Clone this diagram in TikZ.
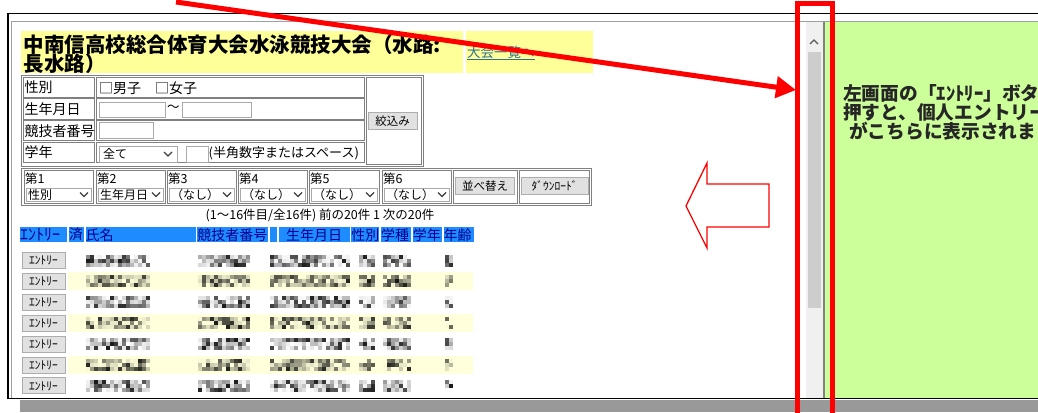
\documentclass[tikz,border=0pt]{standalone}
\usepackage{fontspec}
\setmainfont{Noto Sans CJK JP}
\usepackage{tikz}
\usetikzlibrary{calc}
\usetikzlibrary{matrix,positioning,arrows.meta}

\definecolor{titleyellow}{HTML}{FFFF99}
\definecolor{rowyellow}{HTML}{FFFFDC}
\definecolor{headblue}{HTML}{1E8CFF}
\definecolor{headtext}{HTML}{000090}
\definecolor{panelgreen}{HTML}{CCFF99}
\definecolor{btngray}{HTML}{E1E1E1}
\definecolor{btnborder}{HTML}{ADADAD}
\definecolor{framegray}{HTML}{808080}
\definecolor{fieldgray}{HTML}{A9A9A9}
\definecolor{innergray}{HTML}{A0A0A0}
\definecolor{bargray}{HTML}{999999}
\definecolor{linkteal}{HTML}{2F6F8F}
\definecolor{tracklight}{HTML}{F0F0F0}
\definecolor{thumbgray}{HTML}{CDCDCD}

\begin{document}
\begin{tikzpicture}[
    x=1pt, y=-1pt,
    every node/.style={inner sep=0pt},
    cell/.style={draw=framegray, line width=1pt},
    field/.style={draw=fieldgray, fill=white, line width=1pt},
    button/.style={draw=btnborder, fill=btngray, line width=1pt,
        minimum height=17pt, font=\fontsize{11.5}{12}\selectfont},
    title/.style={anchor=west, font=\fontsize{20.5}{21}\selectfont\bfseries},
    label/.style={anchor=west, font=\fontsize{14}{14}\selectfont},
    small/.style={anchor=west, font=\fontsize{12.5}{13}\selectfont},
    note/.style={anchor=west, text=black!85, font=\fontsize{18.7}{19}\selectfont\bfseries},
    chevron/.style={draw=black!75, line width=1.1pt},
    headrow/.style={
        matrix of nodes,
        nodes in empty cells,
        nodes={
            fill=headblue,
            text=headtext,
            minimum height=15pt,
            anchor=center,
            align=left,
            font=\fontsize{14}{14}\selectfont
        },
        column sep=1.7pt,
    },
    marker/.style={red, line width=5pt},
    hollow/.style={draw=red, fill=white, line width=1.3pt, line join=miter}
]

\useasboundingbox (0,0) rectangle (1038,412);
\fill[white] (0,0) rectangle (1038,412);

% Window frame and bottom bar
\fill[bargray] (20,399.5) rectangle (1038,412);
\draw[black, line width=1.5pt] (1038,13.5) -- (8,13.5) -- (8,398.5) -- (1038,398.5);
\draw[innergray, line width=1pt] (1038,21.5) -- (11,21.5) -- (11,397.5);

% Right panel (green) with scrollbar
\fill[panelgreen] (825,22) rectangle (1038,398);
\fill[tracklight] (806,22) rectangle (822.5,398);
\fill[thumbgray] (807.5,52) rectangle (821,308);
\fill[framegray] (822.5,22) rectangle (825,398);
\draw[chevron, black!65] (810,44) -- (814,40) -- (818,44);
\begin{scope}
    \clip (825,22) rectangle (1038,398);
    \node[note] (note1) at (843,93) {左画面の「ｴﾝﾄﾘｰ」ボタ};
    \node[note] (note2) at (843,112) {押すと、個人エントリー};
    \node[note] (note3) at (849,131) {がこちらに表示されま};
\end{scope}

% Title bar (top left)
\fill[titleyellow] (20.5,31) rectangle (463,73);
\fill[titleyellow] (466,31) rectangle (593,73);
\node[title] (title) at (23.5,45) {中南信高校総合体育大会水泳競技大会（水路:};
\node[title] (title2) at (23.5,64) {長水路）};
\node[anchor=west, text=linkteal, font=\fontsize{13.5}{14}\selectfont] (eventlist) at (467,52) {大会一覧へ};
\draw[linkteal, line width=0.8pt] ($(eventlist.south west)+(0,1)$) -- ($(eventlist.south east)+(0,1)$);

% Filter table
\draw[cell] (21,75.5) rectangle (423.5,166);
\foreach \lab [count=\i] in {性別, 生年月日, 競技者番号, 学年}{
    \pgfmathsetmacro\top{77+21.7*(\i-1)}
    \draw[cell] (23,\top) rectangle (94,\top+20.5);
    \draw[cell] (96,\top) rectangle (364,\top+20.5);
    \node[label] (lab\i) at (24.5,\top+10.5) {\lab};
}
\draw[cell] (366,77) rectangle (421.5,164);
\node[button, minimum width=49pt] (narrow) at (392.5,121) {絞込み};
\node[label] (sexbox) at (99,88) {□男子　□女子};
\draw[field] (99,102) rectangle (165,117);
\node[small] (tilde) at (167,108) {〜};
\draw[field] (182,102) rectangle (251,117);
\draw[field] (99,122) rectangle (153,138);
\draw[field] (99,146) rectangle (177,162);
\node[small, font=\fontsize{12}{12}\selectfont] (allgrades) at (103,154) {全て};
\draw[chevron] (164,152) -- (168,156) -- (172,152);
\draw[field] (186,146) rectangle (208,162);
\node[small, font=\fontsize{13}{13}\selectfont] (hint) at (208.5,153.5) {(半角数字またはスペース)};

% Sort table
\draw[cell] (21,168) rectangle (591.5,205);
\foreach \xa/\xb/\opt [count=\i] in {24/93/性別, 96/165/生年月日, 167/236/（なし）,
        238/307/（なし）, 309/379/（なし）, 382/451/（なし）}{
    \draw[cell] (\xa,170) rectangle (\xb,203);
    \node[small] (sortlab\i) at (\xa+1,179) {第\i};
    \draw[field] (\xa+2,188) rectangle (\xb-1.5,201);
    \node[small, font=\fontsize{12}{12}\selectfont] (sortopt\i) at (\xa+4,194.5) {\opt};
    \draw[chevron] (\xb-13,192.5) -- (\xb-9,196.5) -- (\xb-5,192.5);
}
\draw[cell] (453,170) rectangle (517,203);
\draw[cell] (519,170) rectangle (589.5,203);
\node[button, minimum width=59pt] (sortbtn) at (485,186) {並べ替え};
\node[button, minimum width=67pt] (download) at (554.5,186) {ﾀﾞｳﾝﾛｰﾄﾞ};

% Result list
\node[font=\fontsize{12.5}{13}\selectfont] (count) at (320,215) {(1〜16件目/全16件) 前の20件 1 次の20件};
\matrix[headrow, anchor=north west,
    column 1/.style={nodes={text width=47pt}},
    column 2/.style={nodes={text width=15pt}},
    column 3/.style={nodes={text width=110pt}},
    column 4/.style={nodes={text width=71pt}},
    column 5/.style={nodes={text width=7pt}},
    column 6/.style={nodes={text width=71pt}},
    column 7/.style={nodes={text width=28pt}},
    column 8/.style={nodes={text width=30pt}},
    column 9/.style={nodes={text width=29pt}},
    column 10/.style={nodes={text width=30pt}}] (heads) at (20,227) {
    |[font=\fontsize{16}{16}\selectfont]| ｴﾝﾄﾘｰ & 済 & 氏名 & 競技者番号 & & |[align=center]| 生年月日 & 性別 & 学種 & 学年 & 年齢 \\
};

% Rows (blurred entries)
\pgfmathsetseed{1038}
\foreach \r in {0,...,6}{
    \pgfmathsetmacro\yc{260.5+20.9*\r}
    \ifodd\r\relax
        \fill[rowyellow] (68,\yc-9) rectangle (473,\yc+9);
    \fi
    \node[button, minimum width=43pt, minimum height=16pt] (entry\r) at (43.5,\yc) {ｴﾝﾄﾘｰ};
    \foreach \xa/\xb in {86/146, 198/246, 270/346, 359/371, 383/409, 445/452}{
        \pgfmathsetmacro\xn{\xa+4}
        \foreach \bx in {\xa,\xn,...,\xb}{
            \foreach \by in {-6,-2,2}{
                \pgfmathsetmacro\op{0.9*rnd^1.6}
                \fill[black, fill opacity=\op] (\bx,\yc+\by) rectangle ++(4,4);
            }
        }
    }
}

% Hollow arrow pointing back to the list
\draw[hollow] (686,206) -- (707,163) -- (707,184) -- (769,184)
    -- (769,227) -- (707,227) -- (707,248) -- cycle;

% Highlight of the scrollbar and pointer
\node[draw=red, line width=5pt, minimum width=35.5pt, minimum height=416pt] (scrollmark) at (814.75,212) {};
\coordinate (origin) at (176,2);
\coordinate (pointer) at (796,90);
\draw[marker, -{Triangle[length=20pt, width=21pt]}] (origin) -- (pointer);

\end{tikzpicture}
\end{document}
